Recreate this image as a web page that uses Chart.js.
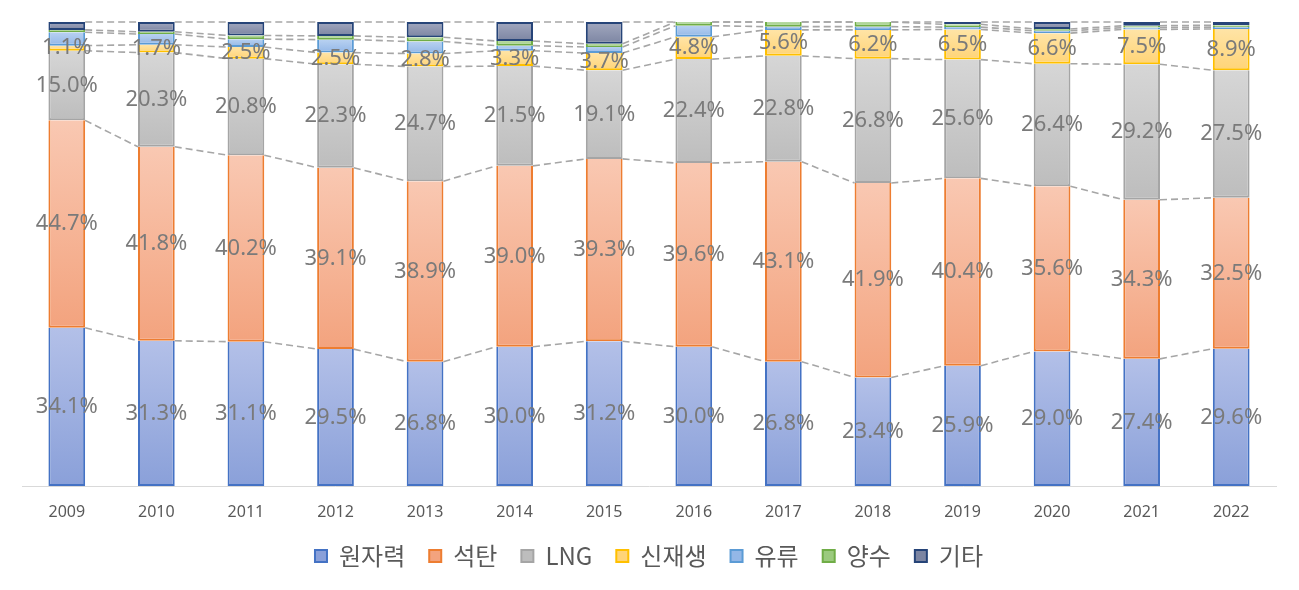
<!DOCTYPE html>
<html>
<head>
<meta charset="utf-8">
<script src="https://cdn.jsdelivr.net/npm/chart.js@4.4.0/dist/chart.umd.min.js"></script>
<style>
    html, body { margin: 0; padding: 0; background: #fff; }
    #wrap { width: 1299px; height: 590px; }
</style>
</head>
<body>
<div id="wrap"><canvas id="mixChart"></canvas></div>
<script>
// 발전원별 발전량 비중 (%)
const years = ['2009', '2010', '2011', '2012', '2013', '2014', '2015', '2016', '2017', '2018', '2019', '2020', '2021', '2022'];
const seriesNames = ['원자력', '석탄', 'LNG', '신재생', '유류', '양수', '기타'];

const nuclear = [34.1, 31.3, 31.1, 29.5, 26.8, 30.0, 31.2, 30.0, 26.8, 23.4, 25.9, 29.0, 27.4, 29.6];
const coal    = [44.7, 41.8, 40.2, 39.1, 38.9, 39.0, 39.3, 39.6, 43.1, 41.9, 40.4, 35.6, 34.3, 32.5];
const lng     = [15.0, 20.3, 20.8, 22.3, 24.7, 21.5, 19.1, 22.4, 22.8, 26.8, 25.6, 26.4, 29.2, 27.5];
const renew   = [1.1, 1.7, 2.5, 2.5, 2.8, 3.3, 3.7, 4.8, 5.6, 6.2, 6.5, 6.6, 7.5, 8.9];
const oil     = [2.9, 2.3, 1.7, 2.8, 2.6, 1.1, 1.3, 2.4, 0.7, 0.7, 0.5, 0.5, 0.4, 0.4];
const pumped  = [0.5, 0.5, 0.8, 0.8, 0.9, 1.0, 0.7, 0.8, 1.0, 1.0, 0.6, 0.4, 0.4, 0.4];
const etc     = [1.7, 2.1, 2.9, 3.0, 3.3, 4.1, 4.7, 0.0, 0.0, 0.0, 0.5, 1.5, 0.8, 0.7];

const allSeries = [nuclear, coal, lng, renew, oil, pumped, etc];
const labeledCount = 4; // 원자력 ~ 신재생 only get data labels

const borderColors = ['#4472C4', '#ED7D31', '#A5A5A5', '#FFC000', '#5B9BD5', '#70AD47', '#264478'];
const fillTop      = ['#b3c0e8', '#f9c8b2', '#d6d6d6', '#ffe4a6', '#b8d1f1', '#b9dba5', '#a2a8bf'];
const fillBottom   = ['#8aa0d9', '#f3a37e', '#bdbdbd', '#ffd477', '#93b7e7', '#9bca7e', '#7c85a2'];

// gradient per segment, lighter at top (like the Excel original)
function segmentFill(k) {
    return function (ctx) {
        const chart = ctx.chart;
        if (ctx.type !== 'data' || !chart.chartArea || !chart.scales.y) return fillBottom[k];
        const i = ctx.dataIndex;
        let base = 0;
        for (let j = 0; j < k; j++) base += allSeries[j][i];
        const yTop = chart.scales.y.getPixelForValue(base + allSeries[k][i]);
        const yBot = chart.scales.y.getPixelForValue(base);
        if (!(yBot - yTop > 0.5)) return fillBottom[k];
        const g = chart.ctx.createLinearGradient(0, yTop, 0, yBot);
        g.addColorStop(0, fillTop[k]);
        g.addColorStop(1, fillBottom[k]);
        return g;
    };
}

// dashed series lines between neighbouring bars
const seriesLines = {
    id: 'seriesLines',
    beforeDatasetsDraw(chart) {
        const c = chart.ctx;
        c.save();
        c.strokeStyle = '#a6a6a6';
        c.lineWidth = 1.6;
        c.setLineDash([7, 4]);
        for (let k = 0; k < allSeries.length; k++) {
            const meta = chart.getDatasetMeta(k);
            for (let i = 0; i < years.length - 1; i++) {
                const a = meta.data[i], b = meta.data[i + 1];
                c.beginPath();
                c.moveTo(a.x + a.width / 2, a.y);
                c.lineTo(b.x - b.width / 2, b.y);
                c.stroke();
            }
        }
        c.restore();
    }
};

// centred value labels
const valueLabels = {
    id: 'valueLabels',
    afterDatasetsDraw(chart) {
        const c = chart.ctx;
        c.save();
        c.font = '22px "Noto Sans", "DejaVu Sans", sans-serif';
        c.fillStyle = '#7a7a7a';
        c.textAlign = 'center';
        c.textBaseline = 'middle';
        for (let k = 0; k < labeledCount; k++) {
            const meta = chart.getDatasetMeta(k);
            meta.data.forEach(function (el, i) {
                const cy = (el.y + el.base) / 2;
                c.fillText(allSeries[k][i].toFixed(1) + '%', el.x, cy);
            });
        }
        c.restore();
    }
};

const datasets = seriesNames.map(function (name, k) {
    return {
        label: name,
        data: allSeries[k],
        backgroundColor: segmentFill(k),
        borderColor: borderColors[k],
        borderWidth: 2,
        borderSkipped: k === allSeries.length - 1 ? false : 'end',
        barPercentage: 0.41,
        categoryPercentage: 1.0
    };
});

new Chart(document.getElementById('mixChart').getContext('2d'), {
    type: 'bar',
    data: { labels: years, datasets: datasets },
    plugins: [seriesLines, valueLabels],
    options: {
        responsive: true,
        maintainAspectRatio: false,
        animation: false,
        layout: { padding: { left: 22, right: 23, top: 22, bottom: 12 } },
        scales: {
            x: {
                stacked: true,
                afterFit: function (scale) { scale.height = 34; },
                grid: { display: false },
                border: { display: true, color: '#d9d9d9', width: 1 },
                ticks: {
                    color: '#595959',
                    padding: 9,
                    font: { family: '"Noto Sans", sans-serif', size: 16 }
                }
            },
            y: {
                stacked: true,
                display: false,
                min: 0,
                max: 100
            }
        },
        plugins: {
            legend: {
                position: 'bottom',
                labels: {
                    boxWidth: 12,
                    boxHeight: 12,
                    padding: 24,
                    color: '#595959',
                    font: { family: '"Noto Sans CJK KR", "Noto Sans", sans-serif', size: 24 }
                }
            },
            tooltip: { enabled: false }
        }
    }
});
</script>
</body>
</html>
